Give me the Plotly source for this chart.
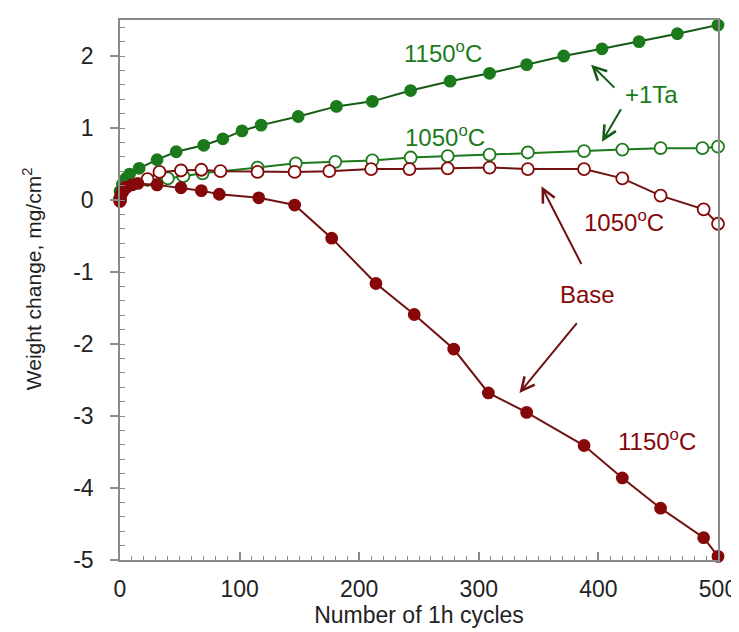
import plotly.graph_objects as go

# ---- data ----
ta1150_x = [0, 2, 5, 8, 16, 31, 47, 70, 86, 102, 118, 149, 181, 211, 243, 276, 309, 340, 371, 403, 434, 466, 500]
ta1150_y = [0.12, 0.22, 0.30, 0.36, 0.44, 0.56, 0.67, 0.76, 0.85, 0.96, 1.04, 1.16, 1.30, 1.37, 1.52, 1.65, 1.76, 1.88, 2.00, 2.10, 2.20, 2.31, 2.43]

ta1050_x = [0, 2, 5, 10, 23, 40, 53, 69, 115, 147, 180, 211, 243, 274, 309, 341, 388, 420, 452, 487, 500]
ta1050_y = [0.02, 0.12, 0.18, 0.22, 0.28, 0.30, 0.33, 0.37, 0.45, 0.51, 0.53, 0.55, 0.59, 0.61, 0.63, 0.66, 0.68, 0.70, 0.72, 0.72, 0.74]

base1050_x = [0, 2, 5, 10, 23, 33, 51, 68, 84, 115, 146, 175, 210, 242, 274, 309, 341, 388, 420, 452, 488, 500]
base1050_y = [0.0, 0.12, 0.18, 0.22, 0.29, 0.39, 0.41, 0.42, 0.40, 0.39, 0.39, 0.40, 0.43, 0.43, 0.44, 0.45, 0.43, 0.43, 0.30, 0.06, -0.13, -0.33]

base1150_x = [0, 1, 2, 5, 10, 15, 31, 51, 68, 83, 116, 146, 177, 214, 246, 279, 308, 340, 388, 420, 452, 488, 500]
base1150_y = [-0.02, 0.08, 0.13, 0.18, 0.21, 0.23, 0.21, 0.17, 0.13, 0.08, 0.03, -0.07, -0.53, -1.16, -1.59, -2.07, -2.68, -2.95, -3.41, -3.86, -4.28, -4.69, -4.95]

x_ticks = [0, 100, 200, 300, 400, 500]
x_ticklabels = ["0", "100", "200", "300", "400", "500"]
y_ticks = [-5, -4, -3, -2, -1, 0, 1, 2]
y_ticklabels = ["-5", "-4", "-3", "-2", "-1", "0", "1", "2"]

GREEN = "#1b7a1b"
GREEN_LINE = "#145c14"
RED = "#860808"
RED_LINE = "#701212"
FONT = "Liberation Sans, Arial, sans-serif"

fig = go.Figure()

def add(x, y, filled, color, line_color):
    fig.add_trace(go.Scatter(
        x=x, y=y, mode="lines+markers", cliponaxis=False, showlegend=False,
        line=dict(color=line_color, width=2),
        marker=dict(symbol="circle", size=11 if filled else 12,
                    color=color if filled else "white",
                    line=dict(color=color, width=1.8)),
    ))

add(ta1050_x, ta1050_y, False, GREEN, GREEN)
add(base1050_x, base1050_y, False, RED, RED_LINE)
add(ta1150_x, ta1150_y, True, GREEN, GREEN_LINE)
add(base1150_x, base1150_y, True, RED, RED_LINE)

def label(x, y, text, color):
    fig.add_annotation(x=x, y=y, text=text, showarrow=False, xref="x", yref="y",
                       font=dict(family=FONT, size=24, color=color))

def arrow(x0, y0, x1, y1, color):
    fig.add_annotation(x=x1, y=y1, ax=x0, ay=y0, xref="x", yref="y", axref="x", ayref="y",
                       text="", showarrow=True, arrowhead=5, arrowsize=1.3, arrowwidth=2,
                       arrowcolor=color)

label(270, 2.05, "1150<sup>o</sup>C", GREEN)
label(444, 1.47, "+1Ta", GREEN)
label(272, 0.89, "1050<sup>o</sup>C", GREEN)
label(421, -0.29, "1050<sup>o</sup>C", RED)
label(390.5, -1.31, "Base", RED)
label(448.6, -3.34, "1150<sup>o</sup>C", RED)

arrow(414.6, 1.54, 393.9, 1.88, GREEN_LINE)
arrow(419.6, 1.28, 403, 0.81, GREEN_LINE)
arrow(386.4, -0.91, 352.4, 0.19, RED_LINE)
arrow(383, -1.69, 334, -2.68, RED_LINE)

# y-axis title placed as rotated text
fig.add_annotation(x=0, xref="paper", xanchor="center", xshift=-88, y=-1.1, yref="y",
                   text="Weight change, mg/cm<sup>2</sup>", textangle=-90, showarrow=False,
                   font=dict(family=FONT, size=21, color="#222"))

axis_common = dict(showgrid=False, zeroline=False, showline=True, linecolor="#8a8a8a",
                   linewidth=1.5, mirror=True, tickcolor="#8a8a8a",
                   tickwidth=1.5, tickfont=dict(family=FONT, size=23, color="#222"),
                   ticklabeloverflow="allow")

fig.update_xaxes(range=[0, 500], tickvals=x_ticks, ticktext=x_ticklabels,
                 ticks="inside", ticklen=8, ticklabelstandoff=8,
                 minor=dict(dtick=10, ticks="inside", ticklen=4, tickcolor="#8a8a8a", tickwidth=1.2),
                 title=dict(text="Number of 1h cycles", font=dict(family=FONT, size=23, color="#222"), standoff=6),
                 **axis_common)
fig.update_yaxes(range=[-5, 2.5], tickvals=y_ticks, ticktext=y_ticklabels,
                 ticks="outside", ticklen=8, ticklabelstandoff=12,
                 minor=dict(dtick=0.2, ticks="inside", ticklen=5, tickcolor="#8a8a8a", tickwidth=1.2),
                 **axis_common)

fig.update_layout(width=739, height=632, margin=dict(l=112, r=23, t=10, b=80),
                  plot_bgcolor="white", paper_bgcolor="white",
                  font=dict(family=FONT))

fig.write_html("out.html")
